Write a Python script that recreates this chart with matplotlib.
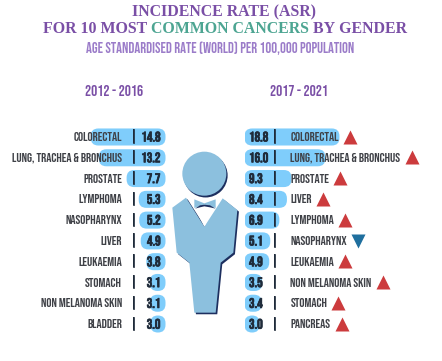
import matplotlib
matplotlib.use("Agg")
import matplotlib.pyplot as plt
import matplotlib.patheffects as pe
from matplotlib.patches import FancyBboxPatch, Polygon, Circle

# ---------------- Data ----------------
cancers_2012 = ["COLORECTAL", "LUNG, TRACHEA & BRONCHUS", "PROSTATE", "LYMPHOMA", "NASOPHARYNX",
                "LIVER", "LEUKAEMIA", "STOMACH", "NON MELANOMA SKIN", "BLADDER"]
rates_2012 = [14.8, 13.2, 7.7, 5.3, 5.2, 4.9, 3.8, 3.1, 3.1, 3.0]

cancers_2017 = ["COLORECTAL", "LUNG, TRACHEA & BRONCHUS", "PROSTATE", "LIVER", "LYMPHOMA",
                "NASOPHARYNX", "LEUKAEMIA", "NON MELANOMA SKIN", "STOMACH", "PANCREAS"]
rates_2017 = [18.8, 16.0, 9.3, 8.4, 6.9, 5.1, 4.9, 3.5, 3.4, 3.0]
trend_2017 = ["up", "up", "up", "up", "up", "down", "up", "up", "up", "up"]

# ---------------- Style ----------------
W, H = 442, 361
BAR = "#7fcdfb"
INK = "#1f2b3a"
GREY = "#3f4147"
PURPLE = "#7a4fa6"
LILAC = "#9b7cc9"
GREEN = "#4da592"
BODY = "#8cc0de"
NAVY = "#1d2f5f"
NARROW = ["Bebas Neue", "Liberation Sans Narrow", "DejaVu Sans"]
SERIF = "Liberation Serif"
PX_PER_UNIT = 5.05
ROW_H = 20.8
HEAVY = [pe.withStroke(linewidth=0.5, foreground=INK)]

fig = plt.figure(figsize=(W / 100, H / 100), dpi=100)
# top/bottom of the bar rows, in pixels from the top of the image
rows_top, rows_bottom = 137 - ROW_H / 2, 324 + ROW_H / 2


def bar_axes(x0, x1, xlim):
    ax = fig.add_axes([x0 / W, 1 - rows_bottom / H, (x1 - x0) / W, (rows_bottom - rows_top) / H])
    ax.set_xlim(*xlim)
    ax.set_ylim(9.5, -0.5)
    ax.axis("off")
    return ax


def rounded_bars(ax, rates, side):
    for i, r in enumerate(rates):
        x = -r if side == "left" else 0
        ax.add_patch(FancyBboxPatch((x, i - 0.41), r, 0.82,
                                    boxstyle="round,pad=0,rounding_size=1.5",
                                    mutation_aspect=PX_PER_UNIT / ROW_H,
                                    fc=BAR, ec="none", zorder=1))


left_ax = bar_axes(0, 165.5, (-165.5 / PX_PER_UNIT, 0))
right_ax = bar_axes(244.5, W, (0, (W - 244.5) / PX_PER_UNIT))
rounded_bars(left_ax, rates_2012, "left")
rounded_bars(right_ax, rates_2017, "right")

# overlay in image pixels for text and the figure in the middle
ov = fig.add_axes([0, 0, 1, 1], zorder=5)
ov.set_xlim(0, W)
ov.set_ylim(H, 0)
ov.axis("off")
ov.patch.set_alpha(0)

# ---------------- Titles ----------------
ov.text(224, 12.5, "INCIDENCE RATE (ASR)", family=SERIF, weight="bold", size=11.4,
        color=PURPLE, ha="center", va="center")

parts = [("FOR 10 MOST ", PURPLE), ("COMMON CANCERS", GREEN), (" BY GENDER", PURPLE)]
x = 43
rend = fig.canvas.get_renderer()
for s, c in parts:
    t = ov.text(x, 29, s.replace(" ", "\u00a0"), family=SERIF, weight="bold", size=11.4,
                color=c, ha="left", va="center")
    x = ov.transData.inverted().transform(t.get_window_extent(rend))[1][0]

ov.text(220.5, 48.5, "AGE STANDARDISED RATE (WORLD) PER 100,000 POPULATION", family=NARROW,
        size=10.5, color=LILAC, ha="center", va="center")
ov.text(114, 90.5, "2012 - 2016", family=NARROW, size=11, color=PURPLE,
        ha="center", va="center")
ov.text(299, 90.5, "2017 - 2021", family=NARROW, size=11, color=PURPLE,
        ha="center", va="center")

# ---------------- Row labels ----------------
for i, (name, r) in enumerate(zip(cancers_2012, rates_2012)):
    y = 136.5 + i * ROW_H
    ov.text(122, y, name, family=NARROW, size=9.3, color=GREY, ha="right", va="center")
    ov.text(133.5, y, "|", family=NARROW, size=9.5, color=INK, ha="center", va="center", path_effects=HEAVY)
    ov.text(160.7, y, f"{r:.1f}", family=NARROW, size=10, color=INK, ha="right", va="center", path_effects=HEAVY)

for i, (name, r, tr) in enumerate(zip(cancers_2017, rates_2017, trend_2017)):
    y = 136.5 + i * ROW_H
    ov.text(249, y, f"{r:.1f}", family=NARROW, size=10, color=INK, ha="left", va="center", path_effects=HEAVY)
    ov.text(274.7, y, "|", family=NARROW, size=9.5, color=INK, ha="center", va="center", path_effects=HEAVY)
    t = ov.text(290.5, y, name, family=NARROW, size=9.3, color=GREY, ha="left", va="center")
    end = ov.transData.inverted().transform(t.get_window_extent(rend))[1][0]
    ov.plot(end + 11, y, marker="^" if tr == "up" else "v", ms=10,
            color="#cc3b3d" if tr == "up" else "#1f6f9e", mec="none")

# ---------------- Figure in the middle ----------------
def zx(v):
    return 150 + v / 3


def zy(v):
    return 120 + v / 3


body_pts = [(108, 233), (67, 263), (80, 398), (118, 428), (133, 578), (197, 578),
            (212, 428), (250, 398), (262, 270), (218, 235), (163, 320)]
body_xy = [(zx(a), zy(b)) for a, b in body_pts]
shadow_xy = [(a + 1.6, b + 1.6) for a, b in body_xy]
ov.add_patch(Polygon(shadow_xy, closed=True, fc=NAVY, ec="none", zorder=2))
ov.add_patch(Polygon(body_xy, closed=True, fc=BODY, ec="none", zorder=3))
# white collar wedge covers the shadow inside the V
ov.add_patch(Polygon([(zx(118), zy(232)), (zx(163), zy(320)), (zx(208), zy(232))], closed=True,
                     fc="white", ec="none", zorder=3.5))
# bow tie
ov.add_patch(Polygon([(zx(133), zy(238)), (zx(163), zy(250)), (zx(197), zy(238)), (zx(197), zy(264)),
                      (zx(163), zy(254)), (zx(133), zy(264))], closed=True, fc=BODY, ec="none", zorder=4))
ov.add_patch(Polygon([(zx(135), zy(266)), (zx(150), zy(256)), (zx(163), zy(254)), (zx(180), zy(256)),
                      (zx(197), zy(266)), (zx(180), zy(262)), (zx(163), zy(259)), (zx(150), zy(262))],
                     closed=True, fc=NAVY, ec="none", zorder=5))
ov.add_patch(Circle((zx(163) + 1.3, zy(161) + 1.8), 22, fc=NAVY, ec="none", zorder=5))
ov.add_patch(Circle((zx(163), zy(161)), 22, fc=BODY, ec="none", zorder=6))

fig.savefig("out.png", dpi=100)
